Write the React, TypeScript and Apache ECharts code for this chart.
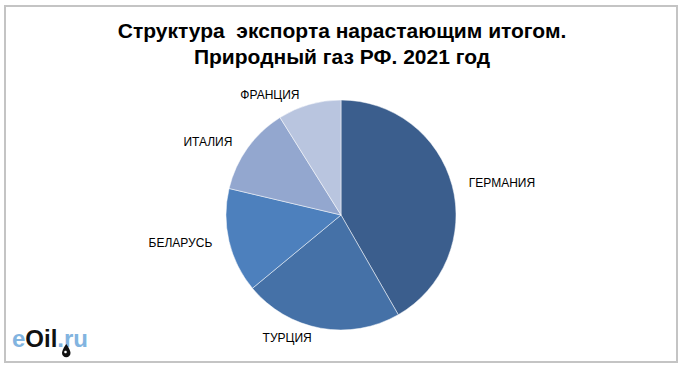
import React, { useEffect, useRef } from "react";
import * as echarts from "echarts";

const titleLines = ["Структура  экспорта нарастающим итогом.", "Природный газ РФ. 2021 год"];
const countries = ["ГЕРМАНИЯ", "ТУРЦИЯ", "БЕЛАРУСЬ", "ИТАЛИЯ", "ФРАНЦИЯ"];
const shares = [41.7, 22.3, 14.7, 12.4, 8.9];
const colors = ["#3B5E8D", "#4571A7", "#4D80BD", "#93A7CF", "#B9C5DF"];

const dropPath =
  "M5 0 C5 0 0 7 0 10.5 C0 13.5 2.2 15.5 5 15.5 C7.8 15.5 10 13.5 10 10.5 C10 7 5 0 5 0 Z";

export default function App() {
  const ref = useRef<HTMLDivElement>(null);
  useEffect(() => {
    if (!ref.current) return;
    try {
      echarts.graphic.registerShape("drop", echarts.graphic.extendPath(dropPath, {}));
    } catch (e) {}
    const chart = echarts.init(ref.current, null, { renderer: "svg" });
    chart.setOption({
      animation: false,
      backgroundColor: "#ffffff",
      title: {
        text: titleLines.join("\n"),
        left: 337,
        top: 12,
        textAlign: "center",
        textStyle: {
          fontFamily: "Liberation Sans",
          fontSize: 21,
          fontWeight: "bold",
          lineHeight: 26,
          color: "#000",
          align: "center",
        },
      },
      graphic: [
        {
          type: "rect",
          shape: { x: 5, y: 6, width: 672, height: 356 },
          style: { fill: "none", stroke: "#C4C4C4", lineWidth: 2 },
          silent: true,
        },
        {
          type: "text",
          left: 12,
          top: 326,
          style: {
            text: "{b|e}{k|Oil}{b|.ru}",
            rich: {
              b: { fontFamily: "Liberation Sans", fontSize: 24, fontWeight: "bold", fill: "#82B4E0" },
              k: { fontFamily: "Liberation Sans", fontSize: 24, fontWeight: "bold", fill: "#111" },
            },
          },
        },
        {
          type: "drop",
          x: 62,
          y: 344,
          scaleX: 0.85,
          scaleY: 0.85,
          style: { fill: "#111" },
        },
        {
          type: "circle",
          shape: { cx: 65.5, cy: 352, r: 1.3 },
          style: { fill: "#ffffff" },
        },
      ],
      series: [
        {
          type: "pie",
          center: [341, 215],
          radius: 115,
          startAngle: 90,
          clockwise: true,
          avoidLabelOverlap: false,
          data: countries.map((name, i) => ({
            name,
            value: shares[i],
            itemStyle: { color: colors[i] },
          })),
          itemStyle: { borderColor: "#ffffff", borderWidth: 0.5 },
          label: {
            show: true,
            position: "outside",
            formatter: "{b}",
            fontFamily: "Liberation Sans",
            fontSize: 12,
            color: "#000",
          },
          labelLine: { show: false, length: 10, length2: 2 },
          emphasis: { disabled: true },
        },
      ],
    });
    return () => chart.dispose();
  }, []);
  return (
    <div
      ref={ref}
      style={{ position: "fixed", left: 0, top: 0, width: 680, height: 367 }}
    />
  );
}
